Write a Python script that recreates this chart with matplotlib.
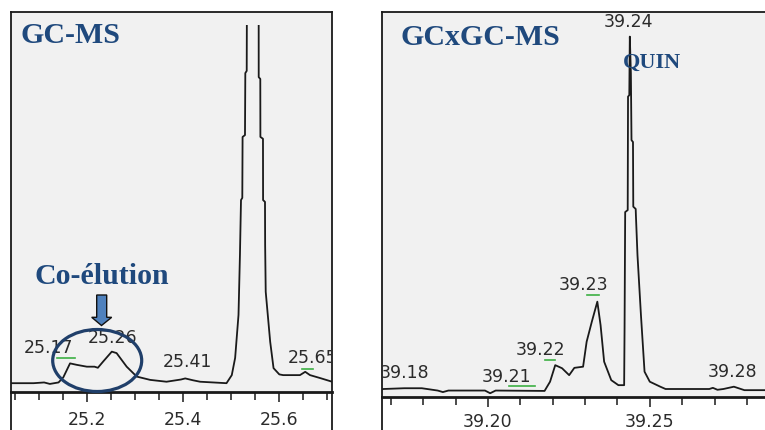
import numpy as np
import matplotlib.pyplot as plt
from matplotlib.lines import Line2D
from matplotlib.patches import Ellipse, Polygon
from matplotlib.ticker import MultipleLocator, FormatStrFormatter

# GC-MS chromatogram (retention time in min, relative signal)
gc_time = [25.041, 25.088, 25.110, 25.122, 25.140, 25.150, 25.164, 25.178, 25.199,
           25.215, 25.222, 25.233, 25.251, 25.261, 25.282, 25.303, 25.331, 25.365,
           25.395, 25.404, 25.420, 25.435, 25.490, 25.501, 25.508, 25.515, 25.518,
           25.5202, 25.5229, 25.5235, 25.5285, 25.5292, 25.5321, 25.5327, 25.545,
           25.5570, 25.5571, 25.5604, 25.5606, 25.5660, 25.5662, 25.5702, 25.5705,
           25.5717, 25.581, 25.588, 25.600, 25.608, 25.643, 25.654, 25.664, 25.685,
           25.710]
gc_signal = [2.4, 2.4, 2.6, 2.2, 2.6, 4.0, 7.8, 7.4, 6.9,
             6.9, 6.6, 8.3, 11.0, 10.6, 6.9, 4.2, 3.3, 2.8,
             3.4, 3.7, 3.2, 2.8, 2.4, 4.6, 9.3, 21.0, 37.3,
             52.3, 52.9, 69.5, 70.0, 86.9, 87.5, 115, 160,
             115, 85.8, 85.3, 69.5, 69.0, 52.3, 51.8, 40.0,
             27.3, 13.7, 6.5, 4.8, 4.6, 4.6, 5.5, 4.6, 3.8,
             2.8]
gc_labels = ["25.17", "25.26", "25.41", "25.65"]
gc_label_t = [25.120, 25.2525, 25.4077, 25.670]
gc_label_y = [12.0, 14.8, 8.3, 9.3]
gc_marks = [(25.137, 25.174, 9.3), (25.647, 25.670, 6.3)]

# GCxGC-MS chromatogram
gcxgc_time = [39.1670, 39.1677, 39.1742, 39.1796, 39.1845, 39.1861, 39.1878, 39.1991,
              39.2007, 39.2024, 39.2175, 39.2192, 39.2208, 39.2229, 39.2251, 39.2267,
              39.2294, 39.2305, 39.2321, 39.2338, 39.2348, 39.2359, 39.2381, 39.2403,
              39.24208, 39.24221, 39.24240, 39.24318, 39.24328, 39.24367, 39.24383,
              39.24416, 39.24435, 39.24481, 39.24490, 39.24565, 39.24571, 39.24620,
              39.24727, 39.24838, 39.25000, 39.25325, 39.25487, 39.26838, 39.26948,
              39.2709, 39.27273, 39.27597, 39.27922, 39.2933]
gcxgc_signal = [1.9, 2.0, 2.2, 2.2, 1.6, 1.2, 1.6, 1.6,
                0.9, 1.6, 1.5, 3.9, 8.2, 7.4, 5.6, 7.5,
                7.8, 14.3, 19.5, 24.7, 18.6, 9.1, 4.3, 3.0,
                3.0, 17.9, 48.0, 48.5, 78.0, 78.4, 93.6,
                84.1, 66.7, 66.2, 49.4, 48.8, 47.2, 36.8,
                21.2, 6.5, 3.9, 2.6, 2.0, 2.0, 2.3,
                1.8, 2.0, 2.6, 1.7, 1.7]
gcxgc_labels = ["39.18", "39.21", "39.22", "39.23", "39.24", "39.28"]
gcxgc_label_t = [39.1742, 39.2056, 39.2163, 39.2296, 39.2433, 39.2756]
gcxgc_label_y = [6.1, 5.2, 12.1, 29.0, 97.5, 6.5]
gcxgc_marks = [(39.2066, 39.2144, 2.8), (39.2175, 39.2208, 9.5), (39.2305, 39.2343, 26.4)]

W, H = 765, 430
BLUE = "#1F497D"
INK = "#1a1a1a"
LBL = "#2b2b2b"
GREEN = "#3cb043"


def box(x0, y0, x1, y1):
    # pixel box (top-left origin) -> figure fraction rect
    return [x0 / W, 1 - y1 / H, (x1 - x0) / W, (y1 - y0) / H]


def pt(x, y):
    return (x / W, 1 - y / H)


fig = plt.figure(figsize=(W / 100, H / 100), dpi=100)


def panel(x0, x1, y_axis, y_top, xlim, major, minor, fmt, pad):
    fr = fig.add_axes(box(x0, 12, x1, y_axis))
    fr.set_facecolor("#f1f1f1")
    fr.set_xticks([])
    fr.set_yticks([])
    for s in ["left", "right", "top"]:
        fr.spines[s].set_color(INK)
        fr.spines[s].set_linewidth(1.3)
    fr.spines["bottom"].set_color(INK)
    fr.spines["bottom"].set_linewidth(2)
    for xv in (x0, x1):
        fig.add_artist(Line2D([xv / W, xv / W], [0, 1 - y_axis / H],
                              transform=fig.transFigure, color=INK, lw=1.3))

    ax = fig.add_axes(box(x0, y_top, x1, y_axis))
    ax.set_facecolor("none")
    for s in ax.spines.values():
        s.set_visible(False)
    ax.set_xlim(*xlim)
    ax.set_ylim(0, 100)
    ax.set_yticks([])
    ax.xaxis.set_major_locator(MultipleLocator(major))
    ax.xaxis.set_minor_locator(MultipleLocator(minor))
    ax.xaxis.set_major_formatter(FormatStrFormatter(fmt))
    ax.tick_params(axis="x", which="major", length=7.5, width=1.1, color=INK,
                   direction="out", pad=pad, labelsize=12.5, labelcolor=LBL)
    ax.tick_params(axis="x", which="minor", length=5.5, width=1.1, color=INK,
                   direction="out")
    return ax


# left panel: GC-MS
ax1 = panel(11, 332, 392, 25, (25.041, 25.7098), 0.2, 0.05, "%.1f", 6)
ax1.plot(gc_time, gc_signal, color=INK, lw=1.3)
for lab, t, y in zip(gc_labels, gc_label_t, gc_label_y):
    ax1.text(t, y, lab, ha="center", va="center", fontsize=12.5, color=LBL,
             family="DejaVu Sans", clip_on=True)
for t0, t1, y in gc_marks:
    ax1.plot([t0, t1], [y, y], color=GREEN, lw=1.2)

# right panel: GCxGC-MS
ax2 = panel(382, 790, 396.7, 12, (39.1673, 39.2933), 0.05, 0.01, "%.2f", 4.5)
ax2.plot(gcxgc_time, gcxgc_signal, color=INK, lw=1.3)
for lab, t, y in zip(gcxgc_labels, gcxgc_label_t, gcxgc_label_y):
    ax2.text(t, y, lab, ha="center", va="center", fontsize=12.5, color=LBL,
             family="DejaVu Sans", clip_on=True)
for t0, t1, y in gcxgc_marks:
    ax2.plot([t0, t1], [y, y], color=GREEN, lw=1.2)

# annotations
serif = dict(family="Liberation Serif", weight="bold", color=BLUE)
fig.text(*pt(20.7, 43.3), "GC-MS", fontsize=21.5, va="baseline", **serif)
fig.text(*pt(400.7, 45), "GCxGC-MS", fontsize=21.5, va="baseline", **serif)
fig.text(*pt(34, 284.3), "Co-élution", fontsize=21.5, va="baseline", **serif)
fig.text(*pt(622.7, 68.3), "QUIN", fontsize=16, va="baseline", **serif)

arrow_px = [(96.7, 295), (106.7, 295), (106.7, 317.3), (111.7, 317.3),
            (101.5, 325.5), (91.7, 317.3), (96.7, 317.3)]
fig.add_artist(Polygon([pt(x, y) for x, y in arrow_px], closed=True,
                       transform=fig.transFigure, facecolor="#4F81BD",
                       edgecolor="#111111", lw=1))
fig.add_artist(Ellipse(pt(97.2, 360.5), 89 / W, 62 / H, transform=fig.transFigure,
                       facecolor="none", edgecolor="#203F6A", lw=2.3))

fig.savefig("out.png", dpi=100)
